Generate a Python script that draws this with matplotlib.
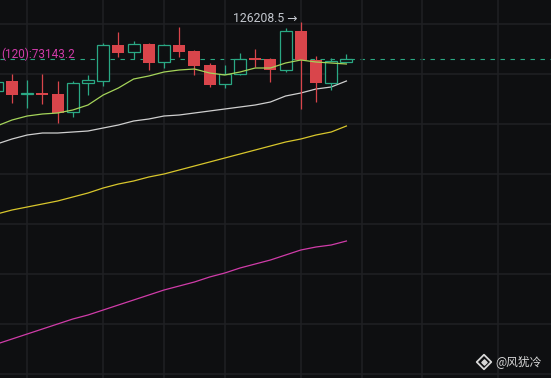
import numpy as np
import matplotlib.pyplot as plt

# weekly candles (first one is cut at the left edge)
opens = [109490, 111913, 108763, 109005, 108763, 104401, 111428, 111913, 120636, 118939, 120878, 116516,
         120636, 119182, 115790, 111186, 113609, 117486, 117243, 114578, 124028, 117001, 111428, 116589]
highs = [112155, 113609, 112155, 113609, 111913, 111913, 113367, 121120, 123785, 121605, 121120, 120878,
         124997, 119424, 116274, 115790, 118697, 119666, 117365, 124755, 126208.5, 117970, 117486, 118455]
lows = [109005, 106582, 105371, 106340, 101736, 103190, 108521, 110701, 117728, 117243, 114578, 115063,
        117728, 113367, 110459, 110217, 113367, 115305, 111670, 114093, 105128, 106824, 109732, 116516]
closes = [111670, 108521, 109005, 108521, 104159, 111428, 112155, 120636, 118697, 120878, 116274, 120636,
          118939, 115547, 110944, 113609, 117243, 117001, 114578, 124028, 117001, 111428, 116759, 117171]

ma7 = [101009, 102463, 103432, 103917, 104159, 104886, 106098, 108521, 110217, 112397, 113124, 114093,
       114578, 114820, 113851, 113367, 114093, 115063, 115063, 116274, 117001, 116516, 116274, 116032]
ma25 = [96648, 97859, 98829, 99313, 99313, 99555, 99798, 100525, 101252, 102221, 102705, 103432,
        103675, 104159, 104644, 105128, 105613, 106098, 106824, 108278, 109005, 109974, 110459, 111913]
ma99 = [79687, 80656, 81383, 82110, 82837, 83806, 84775, 85987, 86956, 87683, 88652, 89379,
        90348, 91317, 92286, 93256, 94225, 95194, 96163, 97132, 97859, 98829, 99555, 101009]
ma120 = [48188, 49399, 50611, 51822, 53034, 54245, 55215, 56426, 57638, 58849, 60061, 61272,
         62241, 63210, 64422, 65391, 66603, 67572, 68541, 69753, 70964, 71691, 72176, 73143.2]

price_ticks = [125724, 113609, 101494, 89379, 77264, 65149, 53034, 40919]
week_ticks = [1, 6, 10, 14, 19, 23, 27, 32]

bg = '#0e0f11'
up = '#2aa884'
down = '#d9454b'

x = np.arange(-1, len(opens) - 1)

fig = plt.figure(figsize=(5.51, 3.78), dpi=100)
fig.patch.set_facecolor(bg)
ax = fig.add_axes([0, 0, 1, 1])
ax.set_facecolor(bg)

ax.set_xlim(-0.79, 35.46)
ax.set_ylim(39950, 131539)
ax.set_xticks(week_ticks)
ax.set_yticks(price_ticks)
ax.grid(True, color='#1f2124', linewidth=1.1)
ax.tick_params(length=0, labelbottom=False, labelleft=False)
for s in ax.spines.values():
    s.set_visible(False)

# moving averages
ax.plot(x, ma120, color='#d03ca9', lw=0.9, zorder=2)
ax.plot(x, ma99, color='#d8c62c', lw=0.9, zorder=2)
ax.plot(x, ma25, color='#cfcfcf', lw=0.9, zorder=2)
ax.plot(x, ma7, color='#a5d45a', lw=0.9, zorder=4)

# last price
ax.axhline(closes[-1], color=up, lw=0.8, dashes=(4, 5), zorder=1)

# candles
w = 0.78
for xi, o, h, l, c in zip(x, opens, highs, lows, closes):
    top, bot = max(o, c), min(o, c)
    if c >= o:
        ax.vlines(xi, top, h, color=up, lw=0.9, zorder=3)
        ax.vlines(xi, l, bot, color=up, lw=0.9, zorder=3)
        ax.bar(xi, top - bot, w, bot, facecolor=bg, edgecolor=up, linewidth=0.9, zorder=3)
    else:
        ax.vlines(xi, l, h, color=down, lw=0.9, zorder=3)
        ax.bar(xi, top - bot, w, bot, color=down, linewidth=0, zorder=3)

# high marker
i_hi = int(np.argmax(highs))
ax.annotate(f'{highs[i_hi]} →', xy=(x[i_hi], highs[i_hi]), xytext=(-3, 3),
            textcoords='offset pixels', ha='right', va='center',
            color='#c3c7ce', fontsize=8.8, family=['Roboto', 'DejaVu Sans'], zorder=6)

ax.text(1 / 551, 1 - 54.5 / 378, f'(120):{ma120[-1]}', transform=ax.transAxes,
        ha='left', va='center', color='#d03ca9', fontsize=8.5, family='Roboto', zorder=6)

# watermark with a small logo
lx, ly = 484 / 551, 1 - 362 / 378
ax.scatter([lx], [ly], s=55, marker='D', facecolor='none', edgecolor='#d8d8d8', linewidth=1.3,
           transform=fig.transFigure, zorder=7, clip_on=False)
ax.scatter([lx], [ly], s=7, marker='D', color='#d8d8d8', transform=fig.transFigure, zorder=7, clip_on=False)
fig.text(495 / 551, 1 - 361.5 / 378, '@风犹冷', ha='left', va='center', color='#d8d8d8',
         fontsize=8.5, family=['Noto Sans CJK SC', 'DejaVu Sans'])

fig.savefig('out.png', dpi=100, facecolor=bg)
